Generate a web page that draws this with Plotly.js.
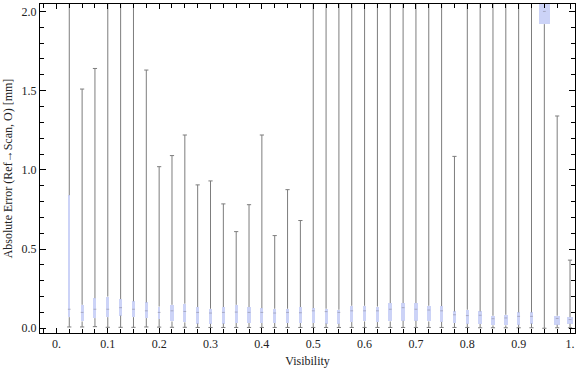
<!DOCTYPE html>
<html>
<head>
<meta charset="utf-8">
<script src="https://cdn.plot.ly/plotly-3.0.1.min.js"></script>
<style>html,body{margin:0;padding:0;background:#fff;}#chart{width:576px;height:375px;}</style>
</head>
<body>
<div id="chart"></div>
<script>
// Visibility bins
const visibility = [0.025,0.05,0.075,0.1,0.125,0.15,0.175,0.2,0.225,0.25,
                    0.275,0.3,0.325,0.35,0.375,0.4,0.425,0.45,0.475,0.5,
                    0.525,0.55,0.575,0.6,0.625,0.65,0.675,0.7,0.725,0.75,
                    0.775,0.8,0.825,0.85,0.875,0.9,0.925,0.95,0.975,1.0];
// whisker ends (min / max), values above 2.05 run off the chart
const whiskerMin = [0.008,0.008,0.01,0.006,0.006,0.006,0.008,0.007,0.006,0.006,
                    0.005,0.005,0.005,0.005,0.005,0.005,0.005,0.005,0.005,0.005,
                    0.005,0.005,0.005,0.005,0.005,0.005,0.005,0.005,0.005,0.005,
                    0.005,0.005,0.003,0.003,0.003,0.003,0.003,0.0,0.003,0.003];
const whiskerMax = [2.6,1.51,1.64,2.7,2.9,2.5,1.63,1.02,1.09,1.22,
                    0.905,0.93,0.785,0.61,0.78,1.22,0.585,0.875,0.68,2.6,
                    2.8,2.7,2.9,3.0,2.8,2.6,2.7,2.9,2.6,2.5,
                    1.085,2.4,2.6,2.5,2.7,2.8,2.5,2.6,1.34,0.43];
// quartiles and medians
const q1 = [0.07,0.043,0.064,0.07,0.08,0.07,0.064,0.058,0.043,0.037,
            0.03,0.028,0.03,0.033,0.033,0.033,0.033,0.033,0.033,0.033,
            0.03,0.028,0.039,0.043,0.039,0.043,0.047,0.047,0.043,0.04,
            0.033,0.028,0.027,0.018,0.018,0.022,0.03,1.92,0.022,0.028];
const q3 = [0.84,0.148,0.19,0.2,0.184,0.17,0.163,0.137,0.148,0.155,
            0.134,0.123,0.134,0.148,0.134,0.127,0.123,0.123,0.134,0.127,
            0.123,0.117,0.142,0.142,0.137,0.159,0.159,0.159,0.142,0.14,
            0.106,0.117,0.106,0.079,0.085,0.1,0.1,2.4,0.079,0.07];
const median = [0.12,0.1,0.12,0.12,0.13,0.12,0.11,0.1,0.11,0.106,
                0.1,0.096,0.1,0.102,0.1,0.1,0.096,0.1,0.098,0.11,
                0.105,0.1,0.11,0.11,0.11,0.12,0.13,0.12,0.115,0.11,
                0.085,0.08,0.082,0.06,0.065,0.075,0.075,2.0,0.062,0.055];
// relative box widths (visibility units)
const boxWidth = [0.004,0.006,0.006,0.006,0.006,0.006,0.006,0.004,0.006,0.006,
                  0.006,0.006,0.006,0.006,0.006,0.006,0.006,0.006,0.006,0.006,
                  0.006,0.006,0.006,0.006,0.006,0.007,0.007,0.007,0.007,0.007,
                  0.006,0.007,0.007,0.007,0.007,0.007,0.007,0.021,0.012,0.012];
const xTickVals = [0,0.1,0.2,0.3,0.4,0.5,0.6,0.7,0.8,0.9,1.0];
const xTickText = ['0.','0.1','0.2','0.3','0.4','0.5','0.6','0.7','0.8','0.9','1.'];
const yTickVals = [0,0.5,1.0,1.5,2.0];
const yTickText = ['0.0','0.5','1.0','1.5','2.0'];

// whiskers: lower (min -> q1) and upper (q3 -> max) segments
const wx = [], wy = [];
visibility.forEach((v,i)=>{
  wx.push(v,v,null,v,v,null);
  wy.push(whiskerMin[i],q1[i],null,q3[i],whiskerMax[i],null);
});
const capX = visibility.concat(visibility);
const capY = whiskerMin.concat(whiskerMax);

const font = 'Liberation Serif, Times New Roman, serif';
const grey = 'rgb(125,125,125)';
const traces = [
  {type:'bar', x:visibility, base:q1, y:q3.map((v,i)=>v-q1[i]), width:boxWidth,
   marker:{color:'rgb(204,211,247)', line:{width:0}}, showlegend:false},
  {type:'scatter', mode:'lines', x:wx, y:wy, line:{color:grey, width:1}, hoverinfo:'skip', showlegend:false},
  {type:'scatter', mode:'markers', x:capX, y:capY, marker:{symbol:'line-ew-open', size:3, color:grey, line:{color:grey, width:1}}, hoverinfo:'skip', showlegend:false},
  {type:'scatter', mode:'markers', x:visibility, y:median, marker:{symbol:'line-ew-open', size:2, color:'rgba(140,140,160,0.6)', line:{color:'rgba(140,140,160,0.6)', width:1}}, hoverinfo:'skip', showlegend:false}
];

const layout = {
  width:576, height:375,
  margin:{l:40, r:1, t:4, b:42},
  paper_bgcolor:'#fff', plot_bgcolor:'#fff',
  font:{family:font, size:12, color:'#222'},
  showlegend:false,
  xaxis:{range:[-0.032,1.0097], tickvals:xTickVals, ticktext:xTickText,
         ticks:'inside', ticklen:5, tickcolor:'#000', tickwidth:1,
         minor:{dtick:0.025, tick0:0, ticks:'inside', ticklen:4, tickcolor:'#000', tickwidth:1, showgrid:false},
         showline:true, linecolor:'#000', linewidth:1, mirror:'allticks',
         showgrid:false, zeroline:false, tickfont:{family:font, size:12, color:'#222'},
         title:{text:'Visibility', font:{family:font, size:12, color:'#222'}, standoff:6}},
  yaxis:{range:[-0.03,2.047], tickvals:yTickVals, ticktext:yTickText,
         ticks:'inside', ticklen:6, tickcolor:'#000', tickwidth:1,
         minor:{dtick:0.1, tick0:0, ticks:'inside', ticklen:4, tickcolor:'#000', tickwidth:1, showgrid:false},
         showline:true, linecolor:'#000', linewidth:1, mirror:'allticks',
         showgrid:false, zeroline:false, tickfont:{family:font, size:12, color:'#222'},
         title:{text:'Absolute Error (Ref\u2192Scan, O) [mm]', font:{family:font, size:12, color:'#222'}, standoff:6}},
  bargap:0
};
Plotly.newPlot('chart', traces, layout, {displayModeBar:false, staticPlot:true});
</script>
</body>
</html>
